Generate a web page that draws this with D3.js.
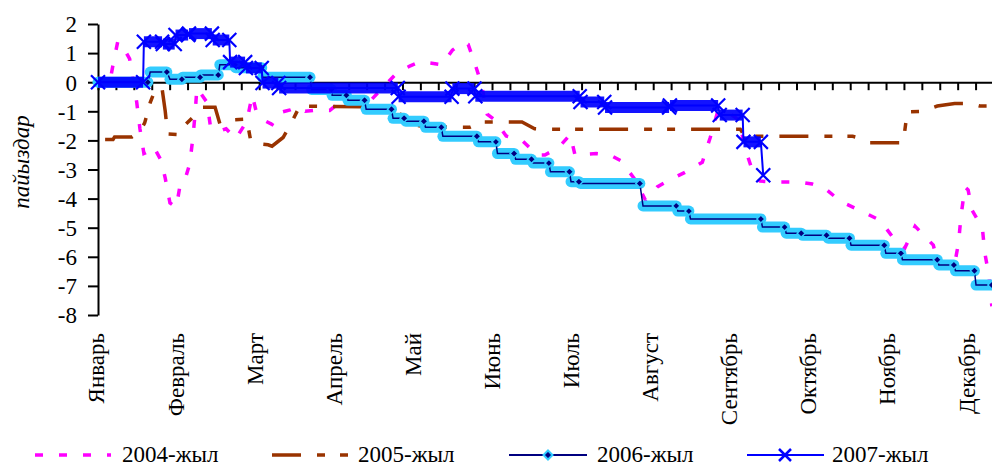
<!DOCTYPE html>
<html><head><meta charset="utf-8">
<script src="https://cdn.jsdelivr.net/npm/d3@7"></script>
<style>
body{margin:0;background:#fff;}
svg{display:block;}
text{font-family:"Liberation Serif","Times New Roman",serif;fill:#000;}
</style>
</head><body>
<svg id="chart" width="992" height="468"></svg>
<script>
// ---- data ----
const months = ["Январь","Февраль","Март","Апрель","Май","Июнь","Июль","Август","Сентябрь","Октябрь","Ноябрь","Декабрь"];
const yTicks = [2,1,0,-1,-2,-3,-4,-5,-6,-7,-8];
const seriesNames = ["2004-жыл","2005-жыл","2006-жыл","2007-жыл"];
const yTitle = "пайыздар";
const catsPerMonth = 53, catsPerTick = 12; // category axis spacing
const xMax = 11.302; // months shown

// [month position, value]
const s2004 = [[0.17,0.3],[0.19,0.6],[0.25,1.4],[0.30,1.3],[0.40,0.8],[0.49,-0.7],[0.53,-1.6],[0.58,-2.45],[0.62,-2.4],[0.70,-2.2],[0.80,-2.7],[0.85,-3.3],[0.91,-4.15],[0.99,-4.3],[1.04,-3.5],[1.10,-3.35],[1.16,-2.8],[1.20,-1.9],[1.23,-1.0],[1.25,-0.2],[1.38,-0.7],[1.42,-1.5],[1.52,-1.7],[1.62,-1.6],[1.74,-1.95],[1.88,-1.35],[1.95,-0.45],[2.00,-1.0],[2.09,-1.3],[2.20,-1.45],[2.29,-1.05],[2.43,-0.95],[2.52,-0.85],[2.62,-1.0],[2.78,-0.95],[2.93,-0.97],[3.10,-0.6],[3.44,-0.65],[3.63,-0.1],[3.79,0.35],[3.94,0.55],[4.07,0.7],[4.22,0.65],[4.35,0.6],[4.48,1.1],[4.60,1.35],[4.68,1.3],[4.77,0.6],[4.85,-0.1],[4.92,-1.1],[5.02,-1.3],[5.16,-1.85],[5.36,-2.0],[5.55,-2.5],[5.65,-2.5],[5.82,-2.25],[5.97,-1.8],[6.03,-2.5],[6.30,-2.45],[6.47,-2.5],[6.61,-2.7],[6.79,-3.35],[6.92,-4.05],[7.07,-3.6],[7.21,-3.38],[7.42,-3.1],[7.64,-2.75],[7.74,-1.9],[7.83,-1.05],[7.93,-0.95],[8.10,-1.3],[8.19,-2.35],[8.28,-3.1],[8.37,-3.4],[8.56,-3.43],[8.87,-3.43],[9.03,-3.5],[9.19,-3.65],[9.39,-4.1],[9.65,-4.43],[9.89,-4.75],[10.08,-5.45],[10.20,-5.7],[10.33,-4.95],[10.56,-5.6],[10.62,-6.25],[10.83,-6.25],[10.88,-5.5],[10.91,-4.6],[10.96,-3.6],[11.00,-3.7],[11.05,-4.4],[11.18,-5.0],[11.21,-5.85],[11.26,-6.6],[11.30,-7.7]];

const s2005 = [[0.09,-1.97],[0.19,-1.97],[0.21,-1.88],[0.43,-1.88],[0.53,-1.7],[0.59,-1.4],[0.66,-0.7],[0.73,-0.22],[0.81,-0.22],[0.85,-1.0],[0.88,-1.78],[1.01,-1.8],[1.07,-1.55],[1.19,-1.23],[1.31,-0.86],[1.48,-0.86],[1.54,-1.42],[1.67,-1.3],[1.88,-1.27],[1.93,-2.0],[1.97,-2.1],[2.15,-2.15],[2.20,-2.2],[2.34,-1.9],[2.45,-1.37],[2.55,-0.82],[3.46,-0.85],[3.67,-1.07],[3.82,-1.1],[3.88,-1.42],[4.13,-1.53],[4.70,-1.55],[4.85,-1.37],[5.36,-1.37],[5.52,-1.6],[5.65,-1.62],[8.12,-1.62],[8.18,-1.86],[9.54,-1.86],[9.63,-1.92],[9.76,-2.08],[10.18,-2.08],[10.23,-1.02],[10.42,-1.0],[10.61,-0.82],[10.83,-0.73],[11.02,-0.73],[11.15,-0.82],[11.30,-0.82]];

const s2006 = [[0,0],[0.63,0],[0.66,0.35],[0.87,0.35],[0.91,0.1],[1.06,0.1],[1.07,0.17],[1.29,0.17],[1.30,0.25],[1.52,0.25],[1.54,0.6],[1.73,0.6],[1.74,0.5],[2.07,0.5],[2.08,0.17],[2.68,0.17],[2.70,-0.25],[2.95,-0.25],[2.96,-0.45],[3.14,-0.45],[3.16,-0.62],[3.37,-0.62],[3.39,-0.93],[3.71,-0.93],[3.73,-1.24],[3.87,-1.24],[3.89,-1.34],[4.12,-1.34],[4.14,-1.55],[4.34,-1.55],[4.36,-1.86],[4.79,-1.86],[4.81,-2.05],[5.03,-2.05],[5.05,-2.45],[5.26,-2.45],[5.28,-2.65],[5.48,-2.65],[5.50,-2.78],[5.70,-2.78],[5.72,-3.08],[5.96,-3.08],[5.98,-3.42],[6.08,-3.42],[6.10,-3.48],[6.85,-3.48],[6.89,-4.25],[7.31,-4.25],[7.33,-4.43],[7.47,-4.43],[7.49,-4.7],[8.38,-4.7],[8.40,-4.98],[8.68,-4.98],[8.70,-5.19],[8.89,-5.19],[8.91,-5.26],[9.21,-5.26],[9.23,-5.36],[9.50,-5.36],[9.52,-5.6],[9.94,-5.6],[9.96,-5.88],[10.15,-5.88],[10.17,-6.1],[10.61,-6.1],[10.63,-6.28],[10.82,-6.28],[10.84,-6.48],[11.08,-6.48],[11.10,-6.97],[11.30,-6.97]];

const s2007 = [[0,0],[0.57,0],[0.58,1.39],[0.81,1.39],[0.82,1.31],[0.97,1.31],[0.98,1.62],[1.14,1.62],[1.15,1.67],[1.44,1.67],[1.45,1.45],[1.66,1.45],[1.67,0.69],[1.86,0.69],[1.87,0.49],[2.07,0.49],[2.08,-0.03],[2.28,-0.03],[2.29,-0.2],[3.79,-0.2],[3.80,-0.5],[4.47,-0.5],[4.48,-0.22],[4.76,-0.22],[4.77,-0.48],[6.09,-0.48],[6.10,-0.68],[6.40,-0.68],[6.41,-0.87],[7.22,-0.87],[7.23,-0.8],[7.84,-0.8],[7.86,-1.13],[8.15,-1.13],[8.16,-2.05],[8.38,-2.05],[8.41,-3.2]];

// ---- layout ----
const svg = d3.select("#chart");
const x = d3.scaleLinear().domain([0, xMax]).range([98, 992]);
const y = d3.scaleLinear().domain([-8, 2]).range([315, 24]);
const FONT = 23;

const line = d3.line().x(d => x(d[0])).y(d => y(d[1]));

// runs of equal values (for marker bands)
function runs(data){
  const r = [];
  for (let i = 0; i < data.length - 1; i++){
    if (Math.abs(data[i][1] - data[i+1][1]) < 1e-9) r.push([data[i], data[i+1]]);
  }
  return r;
}

// y axis
const yAxis = svg.append("g").attr("transform", `translate(${x(0)},0)`)
  .call(d3.axisLeft(y).tickValues(yTicks).tickSize(10).tickSizeOuter(0).tickPadding(11).tickFormat(d => String(d)));
yAxis.select(".domain").attr("stroke", "#000").attr("stroke-width", 2);
yAxis.selectAll(".tick line").attr("stroke", "#000").attr("stroke-width", 2);
yAxis.selectAll(".tick text").style("font-size", FONT + "px").attr("fill", "#000")
  .style("font-family", '"Liberation Serif","Times New Roman",serif').attr("dy", "0.34em");

// x axis at zero
const tickStep = catsPerTick / catsPerMonth;
const xTickVals = d3.range(0, xMax + 1e-9, tickStep);
const xAxis = svg.append("g").attr("transform", `translate(0,${y(0)})`)
  .call(d3.axisBottom(x).tickValues(xTickVals).tickSize(8).tickSizeOuter(0).tickFormat(""));
xAxis.select(".domain").attr("stroke", "#000").attr("stroke-width", 2);
xAxis.selectAll(".tick line").attr("stroke", "#000").attr("stroke-width", 2);

// month labels
svg.append("g").selectAll("text").data(months).join("text")
  .attr("transform", (d, i) => `translate(${x(i)},333) rotate(-90)`)
  .attr("text-anchor", "end").attr("dy", "0.28em")
  .style("font-size", FONT + "px").text(d => d);

// y title
svg.append("text").attr("transform", "translate(29,162) rotate(-90)")
  .attr("text-anchor", "middle").style("font-size", FONT + "px").style("font-style", "italic")
  .text(yTitle);

// ---- series ----
const C04 = "#ff00ff", C05 = "#993300", C06 = "#000080", C06m = "#33ccff", C07 = "#0000ff";
const DASH04 = "8,16", DASH05 = "29,16,8,15,8,16";

// 2004
svg.append("path").datum(s2004).attr("d", line).attr("fill", "none")
  .attr("stroke", C04).attr("stroke-width", 3.5).attr("stroke-dasharray", DASH04);
// 2005
svg.append("path").datum(s2005).attr("d", line).attr("fill", "none")
  .attr("stroke", C05).attr("stroke-width", 3.5).attr("stroke-dasharray", DASH05);

// 2006: line with diamond markers (dense markers form a band)
const g06 = svg.append("g");
g06.selectAll("line.band").data(runs(s2006)).join("line").attr("class", "band")
  .attr("x1", d => x(d[0][0])).attr("x2", d => x(d[1][0]))
  .attr("y1", d => y(d[0][1])).attr("y2", d => y(d[1][1]))
  .attr("stroke", C06m).attr("stroke-width", 11).attr("stroke-linecap", "round");
g06.append("path").datum(s2006).attr("d", line).attr("fill", "none")
  .attr("stroke", C06).attr("stroke-width", 1.5);
g06.selectAll("path.mk").data(runs(s2006).map(r => r[1])).join("path").attr("class", "mk")
  .attr("transform", d => `translate(${x(d[0])},${y(d[1])})`)
  .attr("d", "M0,-4L4,0L0,4L-4,0Z").attr("fill", C06).attr("stroke", C06m).attr("stroke-width", 1.5);

// 2007: line with X markers (dense markers form a band)
const g07 = svg.append("g");
g07.selectAll("line.band").data(runs(s2007)).join("line").attr("class", "band")
  .attr("x1", d => x(d[0][0])).attr("x2", d => x(d[1][0]))
  .attr("y1", d => y(d[0][1])).attr("y2", d => y(d[1][1]))
  .attr("stroke", C07).attr("stroke-width", 11).attr("stroke-linecap", "butt").attr("opacity", 0.92);
g07.append("path").datum(s2007).attr("d", line).attr("fill", "none")
  .attr("stroke", C07).attr("stroke-width", 2);
g07.selectAll("path.mk").data(s2007).join("path").attr("class", "mk")
  .attr("transform", d => `translate(${x(d[0])},${y(d[1])})`)
  .attr("d", "M-7,-7L7,7M-7,7L7,-7").attr("fill", "none").attr("stroke", C07).attr("stroke-width", 2.2);

// ---- legend ----
const ly = 455;
const leg = svg.append("g");
function legText(xp, t){ leg.append("text").attr("x", xp).attr("y", 462).style("font-size", FONT + "px").text(t); }
leg.append("line").attr("x1", 35).attr("x2", 111).attr("y1", ly).attr("y2", ly)
  .attr("stroke", C04).attr("stroke-width", 3.5).attr("stroke-dasharray", DASH04);
legText(122, seriesNames[0]);
leg.append("line").attr("x1", 272).attr("x2", 349).attr("y1", ly).attr("y2", ly)
  .attr("stroke", C05).attr("stroke-width", 3.5).attr("stroke-dasharray", DASH05);
legText(358, seriesNames[1]);
leg.append("line").attr("x1", 509).attr("x2", 587).attr("y1", ly).attr("y2", ly)
  .attr("stroke", C06).attr("stroke-width", 2);
leg.append("path").attr("transform", `translate(548,${ly})`).attr("d", "M0,-4.5L4.5,0L0,4.5L-4.5,0Z")
  .attr("fill", C06).attr("stroke", C06m).attr("stroke-width", 2);
legText(597, seriesNames[2]);
leg.append("line").attr("x1", 747).attr("x2", 824).attr("y1", ly).attr("y2", ly)
  .attr("stroke", C07).attr("stroke-width", 2);
leg.append("path").attr("transform", `translate(785,${ly})`).attr("d", "M-6,-6L6,6M-6,6L6,-6")
  .attr("fill", "none").attr("stroke", C07).attr("stroke-width", 2.5);
legText(832, seriesNames[3]);
</script>
</body></html>
